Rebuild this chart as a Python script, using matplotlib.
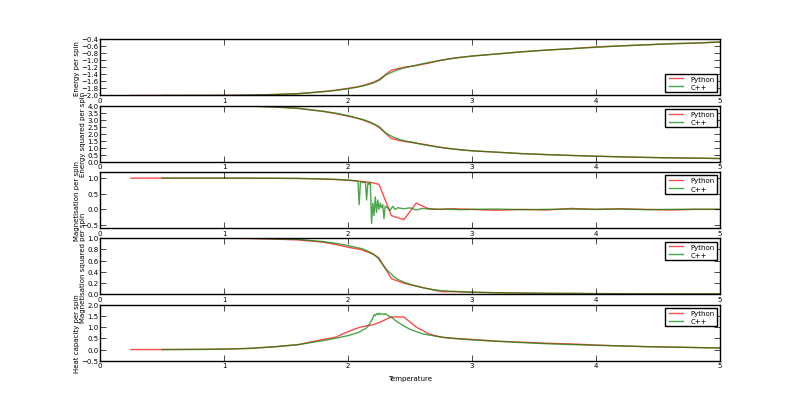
import matplotlib
matplotlib.use('Agg')
import matplotlib.pyplot as plt

plt.style.use('classic')
plt.rcParams['font.size'] = 5

# Python results (coarse temperature grid)
T_py = [0.25, 0.5, 1.0, 1.2, 1.4, 1.6, 1.8, 1.9, 2.0, 2.1, 2.2, 2.25, 2.35, 2.45, 2.55,
        2.65, 2.75, 2.85, 3.0, 3.2, 3.4, 3.6, 3.8, 4.0, 4.2, 4.4, 4.6, 4.8, 5.0]
E_py = [-2.0, -2.0, -1.997, -1.99, -1.975, -1.95, -1.89, -1.85, -1.80, -1.74, -1.63, -1.55, -1.28,
        -1.20, -1.15, -1.08, -1.0, -0.94, -0.88, -0.82, -0.76, -0.71, -0.67, -0.62, -0.59, -0.56,
        -0.53, -0.51, -0.48]
E2_py = [4.0, 4.0, 3.99, 3.96, 3.90, 3.80, 3.58, 3.43, 3.25, 3.04, 2.7, 2.45, 1.65, 1.45, 1.33,
         1.18, 1.02, 0.90, 0.78, 0.68, 0.58, 0.51, 0.45, 0.39, 0.35, 0.31, 0.28, 0.26, 0.23]
M_py = [1.0, 1.0, 1.0, 0.998, 0.995, 0.99, 0.97, 0.955, 0.93, 0.9, 0.85, 0.8, -0.2, -0.33, 0.2,
        0.02, 0.0, 0.02, 0.0, -0.03, 0.0, -0.02, 0.03, 0.0, 0.02, 0.0, -0.02, 0.0, 0.0]
M2_py = [1.0, 1.0, 1.0, 0.995, 0.985, 0.97, 0.93, 0.89, 0.84, 0.80, 0.72, 0.65, 0.28, 0.2, 0.15,
         0.1, 0.05, 0.05, 0.04, 0.03, 0.025, 0.02, 0.018, 0.015, 0.013, 0.012, 0.011, 0.01, 0.01]
Cv_py = [0.0, 0.0, 0.02, 0.05, 0.12, 0.22, 0.45, 0.55, 0.8, 1.0, 1.1, 1.2, 1.45, 1.45, 1.0, 0.7,
         0.55, 0.5, 0.45, 0.37, 0.33, 0.28, 0.25, 0.2, 0.16, 0.13, 0.11, 0.09, 0.07]

# C++ results (fine grid near Tc)
T_cpp = [0.5, 0.8, 1.0, 1.2, 1.4, 1.6, 1.8, 1.9, 2.0,
         2.05, 2.08, 2.09, 2.1, 2.12, 2.14, 2.15, 2.16, 2.17, 2.18, 2.19,
         2.2, 2.21, 2.22, 2.23, 2.24, 2.25, 2.26, 2.27, 2.28, 2.29, 2.3,
         2.32, 2.34, 2.36, 2.38, 2.4,
         2.45, 2.5, 2.55, 2.6, 2.7, 2.8, 2.9, 3.0,
         3.2, 3.4, 3.6, 3.8, 4.0, 4.2, 4.4, 4.6, 4.8, 5.0]
E_cpp = [-2.0, -2.0, -1.998, -1.99, -1.975, -1.95, -1.895, -1.86, -1.81,
         -1.78, -1.76, -1.75, -1.745, -1.73, -1.715, -1.705, -1.695, -1.685, -1.675, -1.66,
         -1.65, -1.635, -1.62, -1.605, -1.59, -1.57, -1.55, -1.52, -1.49, -1.46, -1.43,
         -1.39, -1.36, -1.33, -1.30, -1.27,
         -1.22, -1.18, -1.14, -1.10, -1.03, -0.97, -0.92, -0.88,
         -0.82, -0.76, -0.71, -0.67, -0.63, -0.59, -0.56, -0.53, -0.51, -0.48]
E2_cpp = [4.0, 4.0, 3.99, 3.96, 3.90, 3.80, 3.59, 3.46, 3.28,
          3.17, 3.10, 3.07, 3.05, 3.0, 2.95, 2.92, 2.88, 2.85, 2.82, 2.77,
          2.73, 2.69, 2.64, 2.60, 2.55, 2.5, 2.43, 2.35, 2.26, 2.17, 2.08,
          1.96, 1.87, 1.78, 1.70, 1.63,
          1.50, 1.41, 1.32, 1.23, 1.08, 0.96, 0.86, 0.78,
          0.68, 0.58, 0.51, 0.45, 0.40, 0.35, 0.31, 0.28, 0.26, 0.23]
M_cpp = [1.0, 1.0, 1.0, 0.998, 0.995, 0.99, 0.975, 0.96, 0.94,
         0.92, 0.9, 0.15, 0.88, 0.86, 0.87, 0.3, 0.85, 0.8, 0.86, -0.45,
         0.2, -0.2, 0.4, -0.1, 0.3, 0.0, 0.2, 0.05, 0.15, -0.3, 0.1,
         0.05, -0.03, 0.1, 0.0, 0.05,
         0.02, 0.05, -0.02, 0.03, 0.0, 0.01, -0.01, 0.0,
         0.01, -0.01, 0.0, 0.01, 0.0, 0.01, -0.01, 0.0, 0.005, 0.0]
M2_cpp = [1.0, 1.0, 1.0, 0.998, 0.99, 0.98, 0.94, 0.91, 0.87,
          0.845, 0.83, 0.825, 0.82, 0.81, 0.79, 0.78, 0.77, 0.76, 0.75, 0.74,
          0.72, 0.71, 0.69, 0.67, 0.65, 0.62, 0.59, 0.56, 0.53, 0.50, 0.47,
          0.42, 0.38, 0.34, 0.30, 0.27,
          0.22, 0.18, 0.15, 0.12, 0.08, 0.06, 0.05, 0.04,
          0.03, 0.025, 0.02, 0.018, 0.015, 0.013, 0.012, 0.011, 0.01, 0.01]
Cv_cpp = [0.0, 0.003, 0.02, 0.05, 0.12, 0.22, 0.4, 0.5, 0.62,
          0.7, 0.75, 0.78, 0.8, 0.88, 0.92, 0.98, 1.05, 1.1, 1.2, 1.3,
          1.4, 1.55, 1.5, 1.6, 1.55, 1.62, 1.55, 1.6, 1.58, 1.55, 1.6,
          1.52, 1.45, 1.4, 1.3, 1.22,
          1.05, 0.9, 0.8, 0.7, 0.6, 0.52, 0.47, 0.43,
          0.37, 0.31, 0.26, 0.22, 0.19, 0.16, 0.13, 0.11, 0.09, 0.07]

panels = [
    (E_py, E_cpp, 'Energy per spin', (-2.0, -0.4), [-2.0 + 0.2 * i for i in range(9)], 'lower right'),
    (E2_py, E2_cpp, 'Energy squared per spin', (0, 4), [0.5 * i for i in range(9)], 'upper right'),
    (M_py, M_cpp, 'Magnetisation per spin', (-0.6, 1.2), [-0.5, 0.0, 0.5, 1.0], 'upper right'),
    (M2_py, M2_cpp, 'Magnetisation squared per spin', (0, 1), [0.2 * i for i in range(6)], 'upper right'),
    (Cv_py, Cv_cpp, 'Heat capacity per spin', (-0.5, 2.0), [-0.5, 0.0, 0.5, 1.0, 1.5, 2.0], 'upper right'),
]

fig, axes = plt.subplots(5, 1, figsize=(8, 4.02), dpi=100, facecolor='white')
fig.subplots_adjust(left=0.125, right=0.9, top=0.9, bottom=0.1, hspace=0.18)

for ax, (py, cpp, label, ylim, ticks, loc) in zip(axes, panels):
    ax.plot(T_py, py, color='r', alpha=0.7, label='Python')
    ax.plot(T_cpp, cpp, color='g', alpha=0.7, label='C++')
    ax.set_xlim(0, 5)
    ax.set_ylim(*ylim)
    ax.set_yticks(ticks)
    ax.tick_params(labelsize=5, pad=1)
    ax.set_ylabel(label, fontsize=5, labelpad=1)
    ax.legend(loc=loc, fontsize=5, borderpad=0.3, labelspacing=0.3, handlelength=2.5)

axes[-1].set_xlabel('Temperature', fontsize=5)
fig.savefig('out.png', dpi=100, facecolor='white')
